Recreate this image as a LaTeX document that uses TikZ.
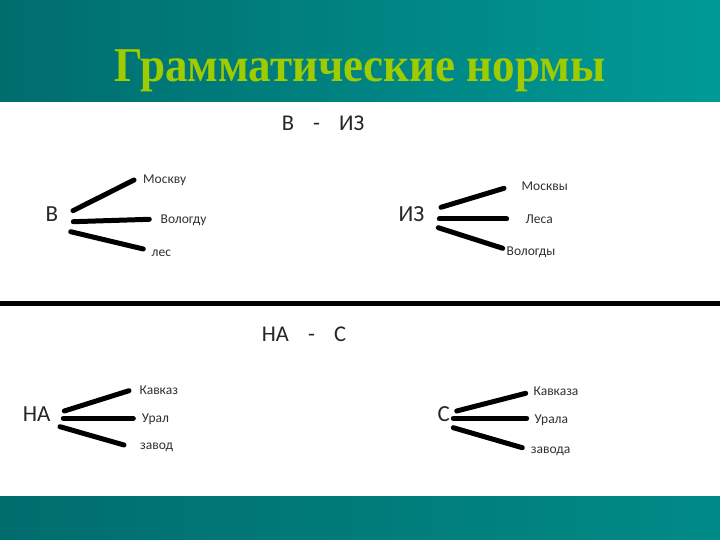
\documentclass[tikz,border=0pt]{standalone}
\usepackage{fontspec}
\setmainfont{Carlito}
\newfontfamily\titlefont{Liberation Serif}
\definecolor{tealL}{HTML}{006D6D}
\definecolor{tealR}{HTML}{009A97}
\definecolor{titlegreen}{HTML}{9FCC00}
\definecolor{labelgray}{HTML}{303030}
\tikzset{
  stroke/.style={line width=5pt, line cap=round},
  small/.style={anchor=mid west, inner sep=0pt, text=labelgray, font=\fontsize{13.5}{15}\selectfont},
  big/.style={anchor=mid, inner sep=0pt, text=black!85, font=\fontsize{23}{26}\selectfont},
  head/.style={anchor=mid, inner sep=0pt, text=black!85, font=\fontsize{22.5}{26}\selectfont},
}
\begin{document}
\begin{tikzpicture}[x=1pt,y=-1pt]
\useasboundingbox (0,0) rectangle (720,540);
\fill[white] (0,0) rectangle (720,540);
\shade[left color=tealL, right color=tealR] (0,0) rectangle (720,102);
\shade[left color=tealL, right color=tealR!90!black] (0,496) rectangle (720,540);
\node[anchor=base, inner sep=0pt, text=titlegreen, yscale=1.08, font=\titlefont\bfseries\fontsize{45}{50}\selectfont] (title) at (360,82) {Грамматические нормы};
% separator
\coordinate (sepL) at (0,303);
\coordinate (sepR) at (720,303);
\draw[line width=5pt] (sepL) -- (sepR);
% headers
\node[head] (h1) at (323,128) {В\hspace{0.85em}-\hspace{0.85em}ИЗ};
\node[head] (h2) at (304,339) {НА\hspace{0.85em}-\hspace{0.85em}С};
% group В
\node[big] (v) at (52,219) {В};
\coordinate (v1a) at (73,210.7); \coordinate (v1b) at (134,180);
\coordinate (v2a) at (73.3,221.7); \coordinate (v2b) at (149.3,219.3);
\coordinate (v3a) at (70.7,231.7); \coordinate (v3b) at (143.3,249);
\draw[stroke] (v1a) -- (v1b);
\draw[stroke] (v2a) -- (v2b);
\draw[stroke] (v3a) -- (v3b);
\node[small] (v1) at (143,181.5) {Москву};
\node[small] (v2) at (160.5,221.5) {Вологду};
\node[small] (v3) at (151.5,254) {лес};
% group ИЗ
\node[big] (iz) at (411.5,219) {ИЗ};
\coordinate (i1a) at (441,207.3); \coordinate (i1b) at (504,188.3);
\coordinate (i2a) at (439.3,219); \coordinate (i2b) at (506.7,219);
\coordinate (i3a) at (438.3,227.7); \coordinate (i3b) at (502.7,248.3);
\draw[stroke] (i1a) -- (i1b);
\draw[stroke] (i2a) -- (i2b);
\draw[stroke] (i3a) -- (i3b);
\node[small] (i1) at (521.5,187.7) {Москвы};
\node[small] (i2) at (525.5,221) {Леса};
\node[small] (i3) at (506.5,252.7) {Вологды};
% group НА
\node[big] (na) at (36.7,419.3) {НА};
\coordinate (n1a) at (64.3,411); \coordinate (n1b) at (129,390.7);
\coordinate (n2a) at (63.3,418.3); \coordinate (n2b) at (133.3,418.3);
\coordinate (n3a) at (60,426.7); \coordinate (n3b) at (124,445);
\draw[stroke] (n1a) -- (n1b);
\draw[stroke] (n2a) -- (n2b);
\draw[stroke] (n3a) -- (n3b);
\node[small] (n1) at (139.3,391.7) {Кавказ};
\node[small] (n2) at (141.7,420) {Урал};
\node[small] (n3) at (140,447.3) {завод};
% group С
\node[big] (s) at (443.7,419.3) {С};
\coordinate (s1a) at (456.7,411); \coordinate (s1b) at (525.7,393.3);
\coordinate (s2a) at (453.3,418.3); \coordinate (s2b) at (526.7,418.3);
\coordinate (s3a) at (453.3,427.7); \coordinate (s3b) at (522.3,447.7);
\draw[stroke] (s1a) -- (s1b);
\draw[stroke] (s2a) -- (s2b);
\draw[stroke] (s3a) -- (s3b);
\node[small] (s1) at (533.3,393.3) {Кавказа};
\node[small] (s2) at (534.3,420.7) {Урала};
\node[small] (s3) at (530.7,450.7) {завода};
\end{tikzpicture}
\end{document}
